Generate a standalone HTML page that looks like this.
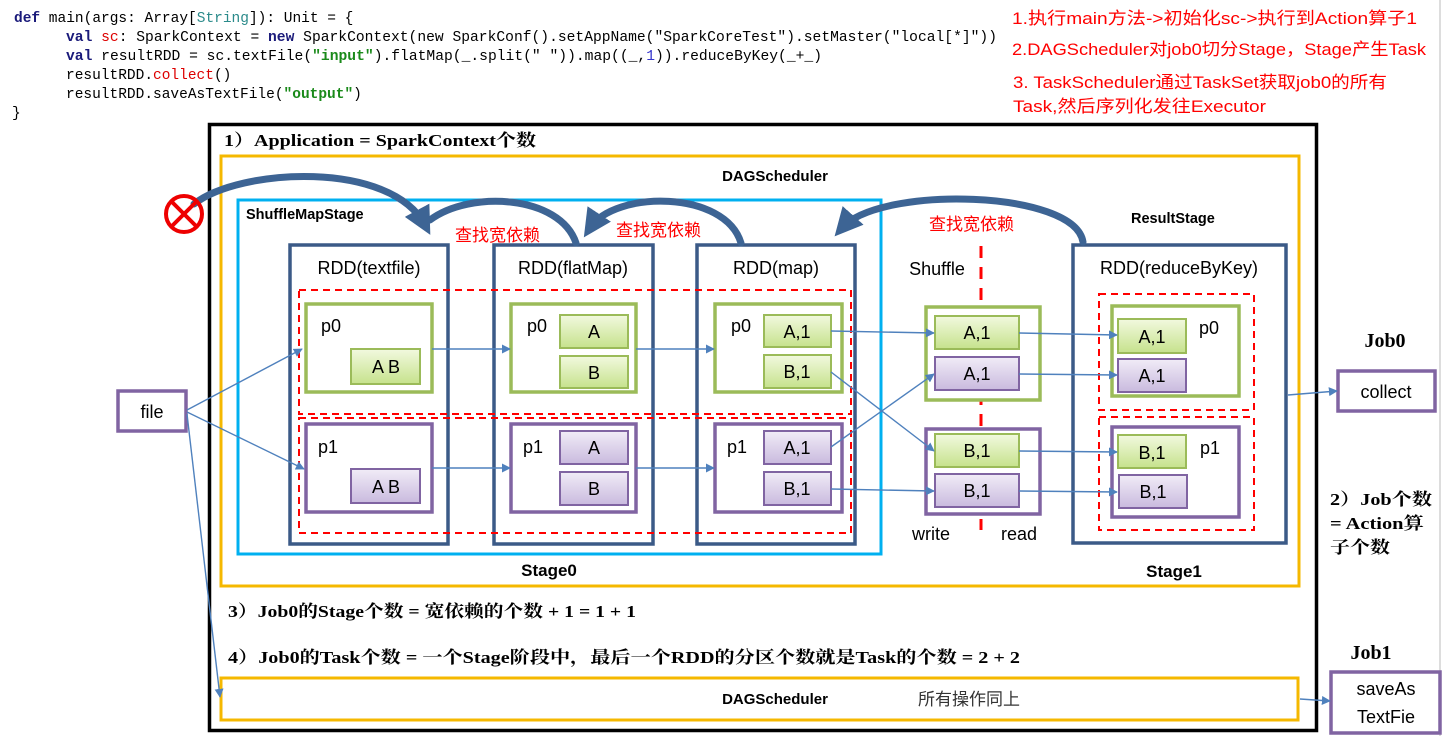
<!DOCTYPE html>
<html><head><meta charset="utf-8"><style>
html,body{margin:0;padding:0;background:#fff;}
svg{display:block;}
.code{font-family:"Liberation Mono",monospace;font-size:14.5px;}
.s{font-family:"Liberation Sans","Noto Sans CJK SC",sans-serif;}
.b{font-family:"Liberation Serif","Noto Serif CJK SC",serif;font-weight:bold;}
</style></head><body>
<svg width="1442" height="736" viewBox="0 0 1442 736" xmlns="http://www.w3.org/2000/svg">
<defs>
<linearGradient id="gg" x1="0" y1="0" x2="0" y2="1"><stop offset="0" stop-color="#f2f9df"/><stop offset="1" stop-color="#c6e28c"/></linearGradient>
<linearGradient id="pg" x1="0" y1="0" x2="0" y2="1"><stop offset="0" stop-color="#f1ecf7"/><stop offset="1" stop-color="#c9bade"/></linearGradient>
<marker id="ah" viewBox="0 0 10 10" refX="9" refY="5" markerWidth="9" markerHeight="9" markerUnits="userSpaceOnUse" orient="auto"><path d="M0,0 L10,5 L0,10 z" fill="#4f81bd"/></marker>
<marker id="bh" viewBox="0 0 10 10" refX="6" refY="5" markerWidth="4" markerHeight="4" orient="auto"><path d="M0,0 L10,5 L0,10 z" fill="#3d6494"/></marker>
</defs>
<line x1="1440" y1="0" x2="1440" y2="736" stroke="#ddd" stroke-width="2"/>
<g class="code" fill="#000">
<text x="14" y="22"><tspan fill="#1a1a7a" font-weight="bold">def</tspan> main(args: Array[<tspan fill="#2a8a8a">String</tspan>]): Unit = {</text>
<text x="66" y="41" textLength="931" lengthAdjust="spacingAndGlyphs"><tspan fill="#1a1a7a" font-weight="bold">val</tspan> <tspan fill="#d00">sc</tspan>: SparkContext = <tspan fill="#1a1a7a" font-weight="bold">new</tspan> SparkContext(new SparkConf().setAppName("SparkCoreTest").setMaster("local[*]"))</text>
<text x="66" y="60" textLength="756" lengthAdjust="spacingAndGlyphs"><tspan fill="#1a1a7a" font-weight="bold">val</tspan> resultRDD = sc.textFile(<tspan fill="#1a8a1a" font-weight="bold">"input"</tspan>).flatMap(_.split(" ")).map((_,<tspan fill="#33c">1</tspan>)).reduceByKey(_+_)</text>
<text x="66" y="79">resultRDD.<tspan fill="#d00">collect</tspan>()</text>
<text x="66" y="98">resultRDD.saveAsTextFile(<tspan fill="#1a8a1a" font-weight="bold">"output"</tspan>)</text>
<text x="12" y="117">}</text>
</g>
<g class="s" fill="#f00" font-size="17">
<text x="1012" y="24" textLength="405" lengthAdjust="spacingAndGlyphs">1.执行main方法-&gt;初始化sc-&gt;执行到Action算子1</text>
<text x="1012" y="55" textLength="414" lengthAdjust="spacingAndGlyphs">2.DAGScheduler对job0切分Stage，Stage产生Task</text>
<text x="1013" y="88" textLength="374" lengthAdjust="spacingAndGlyphs">3. TaskScheduler通过TaskSet获取job0的所有</text>
<text x="1013" y="112" textLength="253" lengthAdjust="spacingAndGlyphs">Task,然后序列化发往Executor</text>
</g>
<rect x="209.5" y="124.5" width="1107" height="606" fill="none" stroke="#000" stroke-width="3.5"/>
<text class="b" x="224" y="146" font-size="17" textLength="312" lengthAdjust="spacingAndGlyphs">1）Application = SparkContext个数</text>
<rect x="221" y="156" width="1078" height="430" fill="none" stroke="#f5b800" stroke-width="3"/>
<text class="s" x="775" y="181" font-size="15" font-weight="bold" text-anchor="middle">DAGScheduler</text>
<rect x="238" y="200" width="643" height="354" fill="none" stroke="#00b0f0" stroke-width="3"/>
<text class="s" x="246" y="219" font-size="14.5" font-weight="bold">ShuffleMapStage</text>
<text class="s" x="1131" y="223" font-size="14.5" font-weight="bold">ResultStage</text>
<g fill="none" stroke="#3b5a87" stroke-width="3.5">
<rect x="290" y="245" width="158" height="299"/>
<rect x="494" y="245" width="159" height="299"/>
<rect x="697" y="245" width="158" height="299"/>
<rect x="1073" y="245" width="213" height="298"/>
</g>
<g class="s" font-size="18" fill="#000" text-anchor="middle">
<text x="369" y="274">RDD(textfile)</text>
<text x="573" y="274">RDD(flatMap)</text>
<text x="776" y="274">RDD(map)</text>
<text x="1179" y="274">RDD(reduceByKey)</text>
<text x="937" y="275">Shuffle</text>
<text x="931" y="540">write</text>
<text x="1019" y="540">read</text>
</g>
<g font-size="17" text-anchor="middle">
<text x="549" y="576" class="s" font-weight="bold">Stage0</text>
<text x="1174" y="577" class="s" font-weight="bold">Stage1</text>
</g>
<g fill="none" stroke="#f00" stroke-width="2" stroke-dasharray="7,5">
<rect x="299" y="290" width="552" height="124"/>
<rect x="299" y="418" width="552" height="115"/>
<rect x="1099" y="294" width="155" height="116"/>
<rect x="1099" y="417" width="155" height="113"/>
<line x1="981" y1="246" x2="981" y2="530" stroke-width="3" stroke-dasharray="12,9"/>
</g>
<g fill="#fff" stroke-width="3.5">
<rect x="306" y="304" width="126" height="88" stroke="#9bbb59"/>
<rect x="511" y="304" width="125" height="88" stroke="#9bbb59"/>
<rect x="715" y="304" width="127" height="88" stroke="#9bbb59"/>
<rect x="306" y="424" width="126" height="88" stroke="#8064a2"/>
<rect x="511" y="424" width="125" height="88" stroke="#8064a2"/>
<rect x="715" y="424" width="127" height="88" stroke="#8064a2"/>
<rect x="926" y="307" width="114" height="93" stroke="#9bbb59"/>
<rect x="926" y="429" width="114" height="85" stroke="#8064a2"/>
<rect x="1112" y="306" width="127" height="90" stroke="#9bbb59"/>
<rect x="1112" y="427" width="127" height="90" stroke="#8064a2"/>
</g>
<g class="s" font-size="18" fill="#000">
<text x="321" y="332">p0</text><text x="318" y="453">p1</text>
<text x="527" y="332">p0</text><text x="523" y="453">p1</text>
<text x="731" y="332">p0</text><text x="727" y="453">p1</text>
<text x="1199" y="334">p0</text><text x="1200" y="454">p1</text>
</g>
<g stroke-width="2">
<rect x="351" y="349" width="69" height="35" fill="url(#gg)" stroke="#9bbb59"/>
<rect x="560" y="315" width="68" height="33" fill="url(#gg)" stroke="#9bbb59"/>
<rect x="560" y="356" width="68" height="32" fill="url(#gg)" stroke="#9bbb59"/>
<rect x="764" y="315" width="67" height="32" fill="url(#gg)" stroke="#9bbb59"/>
<rect x="764" y="355" width="67" height="33" fill="url(#gg)" stroke="#9bbb59"/>
<rect x="351" y="469" width="69" height="34" fill="url(#pg)" stroke="#8064a2"/>
<rect x="560" y="431" width="68" height="33" fill="url(#pg)" stroke="#8064a2"/>
<rect x="560" y="472" width="68" height="33" fill="url(#pg)" stroke="#8064a2"/>
<rect x="764" y="431" width="67" height="33" fill="url(#pg)" stroke="#8064a2"/>
<rect x="764" y="472" width="67" height="33" fill="url(#pg)" stroke="#8064a2"/>
<rect x="935" y="316" width="84" height="33" fill="url(#gg)" stroke="#9bbb59"/>
<rect x="935" y="357" width="84" height="33" fill="url(#pg)" stroke="#8064a2"/>
<rect x="935" y="434" width="84" height="33" fill="url(#gg)" stroke="#9bbb59"/>
<rect x="935" y="474" width="84" height="33" fill="url(#pg)" stroke="#8064a2"/>
<rect x="1118" y="319" width="68" height="34" fill="url(#gg)" stroke="#9bbb59"/>
<rect x="1118" y="359" width="68" height="33" fill="url(#pg)" stroke="#8064a2"/>
<rect x="1118" y="435" width="68" height="33" fill="url(#gg)" stroke="#9bbb59"/>
<rect x="1119" y="475" width="68" height="33" fill="url(#pg)" stroke="#8064a2"/>
</g>
<g class="s" font-size="18" fill="#000" text-anchor="middle">
<text x="386" y="373">A B</text><text x="386" y="493">A B</text>
<text x="594" y="338">A</text><text x="594" y="379">B</text>
<text x="594" y="454">A</text><text x="594" y="495">B</text>
<text x="797" y="338">A,1</text><text x="797" y="378">B,1</text>
<text x="797" y="454">A,1</text><text x="797" y="495">B,1</text>
<text x="977" y="339">A,1</text><text x="977" y="380">A,1</text>
<text x="977" y="457">B,1</text><text x="977" y="497">B,1</text>
<text x="1152" y="343">A,1</text><text x="1152" y="382">A,1</text>
<text x="1152" y="459">B,1</text><text x="1153" y="498">B,1</text>
</g>
<g fill="#fff" stroke="#8064a2" stroke-width="3.5">
<rect x="118" y="391" width="68" height="40"/>
<rect x="1338" y="371" width="97" height="40"/>
<rect x="1331" y="672" width="109" height="61"/>
</g>
<g class="s" font-size="18" fill="#000" text-anchor="middle">
<text x="152" y="418">file</text>
<text x="1386" y="398">collect</text>
<text x="1386" y="695">saveAs</text>
<text x="1386" y="723">TextFie</text>
</g>
<text class="b" x="1385" y="347" font-size="20" text-anchor="middle">Job0</text>
<text class="b" x="1371" y="659" font-size="20" text-anchor="middle">Job1</text>
<g class="b" font-size="17">
<text x="1330" y="505" textLength="102" lengthAdjust="spacingAndGlyphs">2）Job个数</text>
<text x="1330" y="529" textLength="94" lengthAdjust="spacingAndGlyphs">= Action算</text>
<text x="1330" y="553" textLength="60" lengthAdjust="spacingAndGlyphs">子个数</text>
</g>
<text class="b" x="228" y="617" font-size="17" textLength="408" lengthAdjust="spacingAndGlyphs">3）Job0的Stage个数 = 宽依赖的个数 + 1 = 1 + 1</text>
<text class="b" x="228" y="663" font-size="17" textLength="792" lengthAdjust="spacingAndGlyphs">4）Job0的Task个数 = 一个Stage阶段中，最后一个RDD的分区个数就是Task的个数 = 2 + 2</text>
<rect x="221" y="678" width="1077" height="42" fill="none" stroke="#f5b800" stroke-width="3"/>
<text class="s" x="775" y="704" font-size="15" font-weight="bold" text-anchor="middle">DAGScheduler</text>
<text class="s" x="918" y="705" font-size="17" fill="#333">所有操作同上</text>
<g class="s" font-size="17" fill="#f00">
<text x="455" y="241">查找宽依赖</text>
<text x="616" y="236">查找宽依赖</text>
<text x="929" y="230">查找宽依赖</text>
</g>
<g stroke="#4f81bd" stroke-width="1.4" fill="none" marker-end="url(#ah)">
<line x1="187" y1="410" x2="302" y2="349"/>
<line x1="187" y1="412" x2="304" y2="469"/>
<line x1="187" y1="414" x2="220" y2="697"/>
<line x1="432" y1="349" x2="510" y2="349"/>
<line x1="636" y1="349" x2="714" y2="349"/>
<line x1="432" y1="468" x2="510" y2="468"/>
<line x1="636" y1="468" x2="714" y2="468"/>
<line x1="831" y1="331" x2="934" y2="333"/>
<line x1="831" y1="372" x2="934" y2="451"/>
<line x1="831" y1="447" x2="934" y2="374"/>
<line x1="831" y1="489" x2="934" y2="491"/>
<line x1="1019" y1="333" x2="1117" y2="335"/>
<line x1="1019" y1="374" x2="1117" y2="375"/>
<line x1="1019" y1="451" x2="1117" y2="452"/>
<line x1="1019" y1="491" x2="1117" y2="492"/>
<line x1="1288" y1="395" x2="1337" y2="391"/>
<line x1="1300" y1="699" x2="1330" y2="701"/>
</g>
<g stroke="#3d6494" stroke-width="7" fill="none" stroke-linecap="round">
<path d="M194,204 C240,168 390,160 425,225" marker-end="url(#bh)"/>
<path d="M576,243 C560,195 470,190 430,220"/>
<path d="M741,243 C725,190 615,190 590,228" marker-end="url(#bh)"/>
<path d="M1083,242 C1075,190 880,185 842,228" marker-end="url(#bh)"/>
</g>
<circle cx="184" cy="214" r="18" fill="none" stroke="#e00" stroke-width="4"/>
<line x1="172" y1="202" x2="196" y2="226" stroke="#e00" stroke-width="4"/>
<line x1="196" y1="202" x2="172" y2="226" stroke="#e00" stroke-width="4"/>
</svg>
</body></html>
